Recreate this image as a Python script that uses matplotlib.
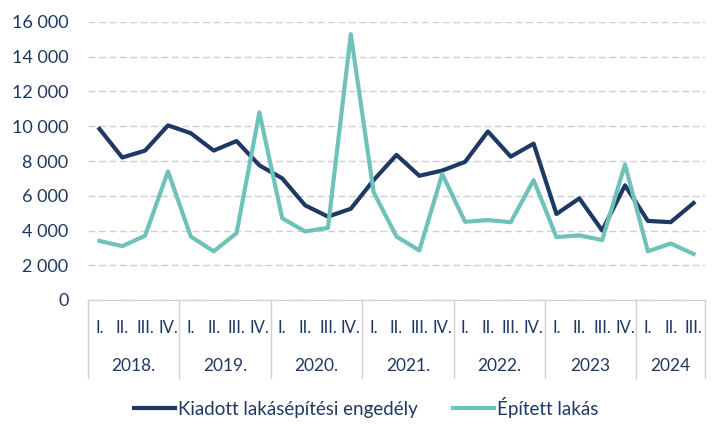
import numpy as np
import matplotlib.pyplot as plt
import matplotlib.transforms as mtransforms
from matplotlib.ticker import FuncFormatter

plt.rcParams['font.family'] = ['Lato', 'DejaVu Sans']

# quarterly data 2018 Q1 - 2024 Q3
engedely = [9850, 8200, 8600, 10050, 9600, 8600, 9150, 7750, 7000, 5450, 4800, 5250,
            6900, 8350, 7150, 7450, 7950, 9700, 8250, 9000, 4950, 5850, 4000, 6600,
            4550, 4480, 5580]
epitett = [3400, 3100, 3700, 7400, 3650, 2800, 3850, 10800, 4700, 3950, 4150, 15300,
           6200, 3650, 2850, 7250, 4500, 4600, 4480, 6900, 3620, 3720, 3450, 7800,
           2800, 3250, 2650]
quarters = ["I.", "II.", "III.", "IV."] * 6 + ["I.", "II.", "III."]
years = ["2018.", "2019.", "2020.", "2021.", "2022.", "2023", "2024"]
year_len = [4, 4, 4, 4, 4, 4, 3]

navy = "#1f3864"
teal = "#6fc2b9"
grey = "#d0d0d0"

fig = plt.figure(figsize=(7.27, 4.37), dpi=100)
ax = fig.add_axes([88 / 727, 137 / 437, 617 / 727, 278 / 437])

x = np.arange(len(engedely))
ax.plot(x, engedely, color=navy, lw=3, label="Kiadott lakásépítési engedély")
ax.plot(x, epitett, color=teal, lw=3, label="Épített lakás")

ax.set_xlim(-0.5, len(x) - 0.5)
ax.set_ylim(0, 16000)
ax.set_yticks(np.arange(0, 16001, 2000))
ax.yaxis.set_major_formatter(FuncFormatter(lambda v, p: f"{int(v):,}".replace(",", " ")))
ax.tick_params(axis="y", length=0, labelsize=13, labelcolor=navy, pad=14)
ax.set_xticks([])
ax.grid(axis="y", color=grey, lw=1, dashes=(5, 2.5))
for s in ["top", "right", "left"]:
    ax.spines[s].set_visible(False)
ax.spines["bottom"].set_color(grey)

# grouped x labels
trans = mtransforms.blended_transform_factory(ax.transData, ax.transAxes)
for i, q in enumerate(quarters):
    ax.text(i, -0.101, q, transform=trans, ha="center", va="center",
            fontsize=12, color=navy, clip_on=False)
pos = -0.5
ax.plot([pos, pos], [0, -0.28], transform=trans, color=grey, lw=1, clip_on=False)
for y, n in zip(years, year_len):
    ax.text(pos + n / 2, -0.237, y, transform=trans, ha="center", va="center",
            fontsize=12.5, color=navy, clip_on=False)
    pos += n
    ax.plot([pos, pos], [0, -0.28], transform=trans, color=grey, lw=1, clip_on=False)

leg = fig.legend(loc="center", bbox_to_anchor=(366 / 727, 30 / 437), ncol=2,
                 frameon=False, fontsize=13.5, handlelength=2.2, handletextpad=0.15,
                 columnspacing=1.85)
for t in leg.get_texts():
    t.set_color(navy)

fig.savefig("out.png", dpi=100)
